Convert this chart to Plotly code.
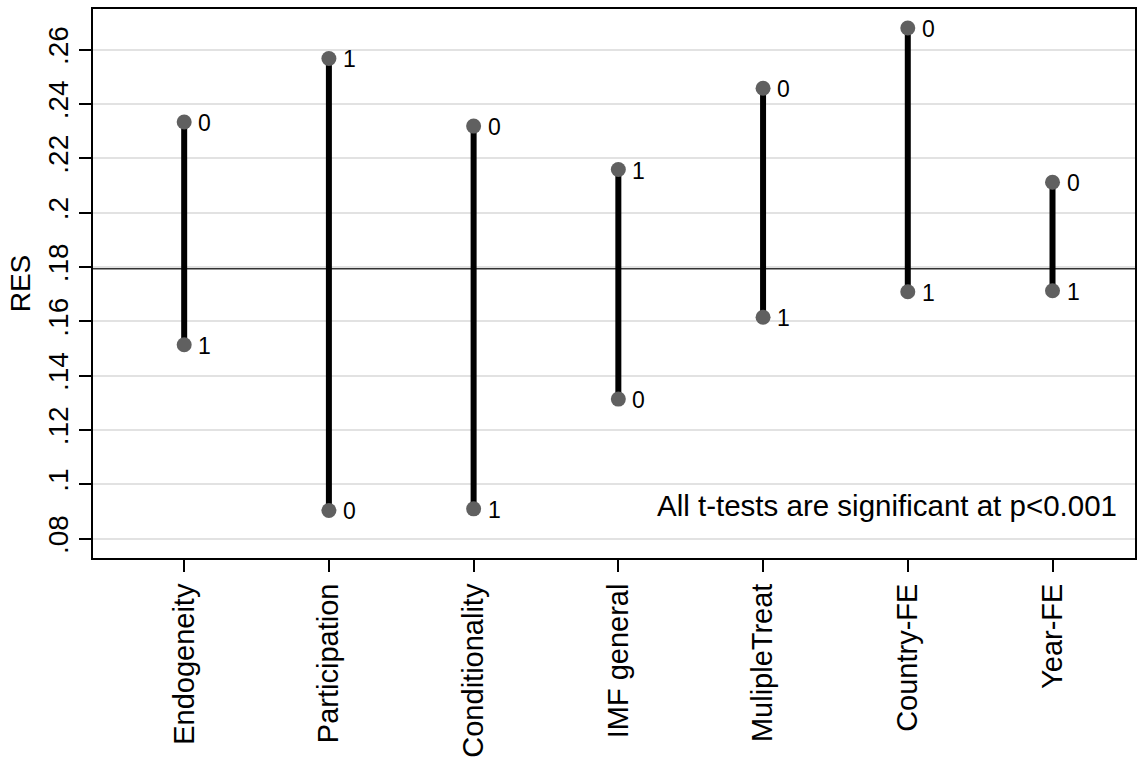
import plotly.graph_objects as go

categories = ["Endogeneity", "Participation", "Conditionality", "IMF general",
              "MulipleTreat", "Country-FE", "Year-FE"]
res_group0 = [0.2334, 0.0904, 0.2319, 0.1314, 0.2458, 0.2680, 0.2112]
res_group1 = [0.1514, 0.2568, 0.0910, 0.2159, 0.1615, 0.1709, 0.1713]
overall_mean = 0.1797
y_tickvals = [0.08, 0.10, 0.12, 0.14, 0.16, 0.18, 0.20, 0.22, 0.24, 0.26]
y_ticktext = [".08", ".1", ".12", ".14", ".16", ".18", ".2", ".22", ".24", ".26"]
note = "All t-tests are significant at p<0.001"

FONT = "Liberation Sans, Arial, sans-serif"

fig = go.Figure()

# vertical connecting lines
lx, ly = [], []
for c, a, b in zip(categories, res_group0, res_group1):
    lx += [c, c, None]
    ly += [a, b, None]
fig.add_trace(go.Scatter(x=lx, y=ly, mode="lines",
                         line=dict(color="black", width=6),
                         hoverinfo="skip", showlegend=False))

# markers
for vals in (res_group0, res_group1):
    fig.add_trace(go.Scatter(
        x=categories, y=vals, mode="markers",
        marker=dict(color="#606060", size=15),
        showlegend=False, cliponaxis=False))

# marker labels (group id)
for vals, lab in [(res_group0, "0"), (res_group1, "1")]:
    for c, v in zip(categories, vals):
        fig.add_annotation(x=c, y=v, text=lab, showarrow=False,
                           xanchor="left", yanchor="middle", xshift=12, yshift=-1,
                           font=dict(family=FONT, size=23, color="black"))

fig.add_shape(type="line", xref="paper", x0=0, x1=1, yref="y",
              y0=overall_mean, y1=overall_mean,
              line=dict(color="#333333", width=3), layer="between")

fig.add_annotation(x=1, xref="paper", xanchor="right", xshift=-16,
                   y=0.0922, yref="y", yanchor="middle",
                   text=note, showarrow=False,
                   font=dict(family=FONT, size=29.5, color="black"))

fig.update_layout(
    width=1137, height=758,
    margin=dict(l=93, r=0, t=9, b=198),
    paper_bgcolor="white", plot_bgcolor="white",
    font=dict(family=FONT, color="black"),
    xaxis=dict(type="category", range=[-0.63, 6.57],
               showline=True, linecolor="black", linewidth=2, mirror=True,
               ticks="outside", ticklen=12, tickwidth=1.5, tickcolor="black",
               tickangle=-90, tickfont=dict(family=FONT, size=29, color="black"),
               showgrid=False, zeroline=False),
    yaxis=dict(range=[0.0729, 0.275],
               tickvals=y_tickvals, ticktext=y_ticktext,
               showline=True, linecolor="black", linewidth=2, mirror=True,
               ticks="outside", ticklen=12, tickwidth=1.5, tickcolor="black",
               tickangle=-90, tickfont=dict(family=FONT, size=28, color="black"),
               showgrid=True, gridcolor="#e2e2e2", gridwidth=1.5,
               zeroline=False,
               title=dict(text="RES", font=dict(family=FONT, size=28, color="black"),
                          standoff=4)),
)

fig.write_html("out.html")
